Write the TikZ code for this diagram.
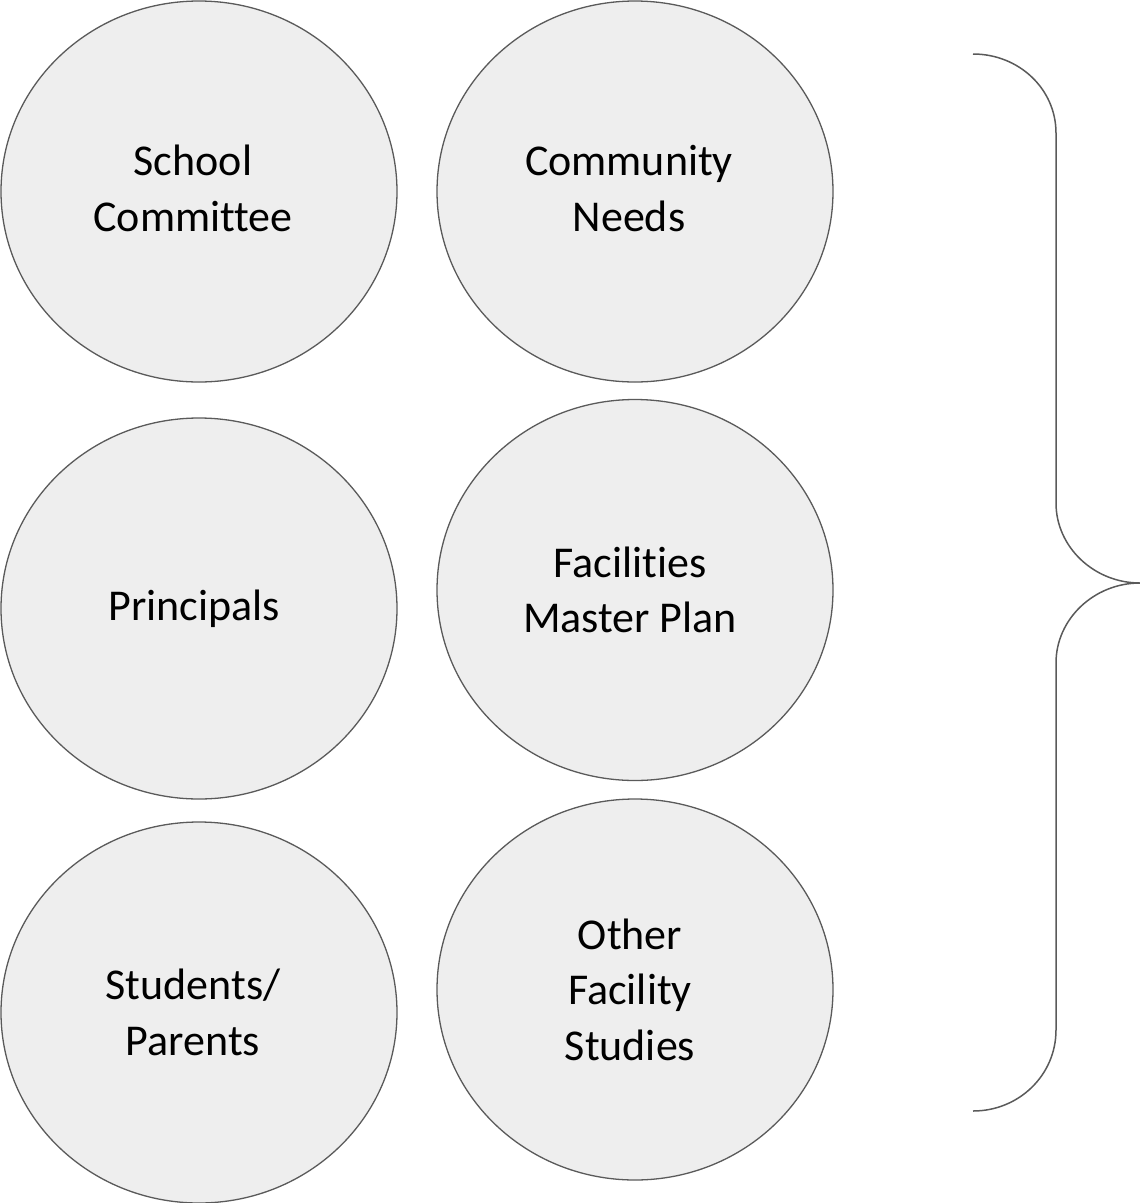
\documentclass[tikz,border=0pt]{standalone}
\usepackage{fontspec}
\setmainfont{Carlito}[Ligatures={NoCommon}]
\usetikzlibrary{shapes.geometric}
\definecolor{ringline}{HTML}{5A5A5A}
\definecolor{ringfill}{HTML}{EEEEEE}
\tikzset{
  bubble/.style={ellipse, draw=ringline, fill=ringfill, line width=1.3pt,
    minimum width=396pt, minimum height=381pt, inner sep=0pt},
  bubbletext/.style={align=center, inner sep=0pt,
    font=\fontsize{44}{55.5}\selectfont},
  bracestroke/.style={draw=ringline, line width=1.5pt}
}
\begin{document}
\begin{tikzpicture}[x=1pt,y=-1pt]
\useasboundingbox (0,0) rectangle (1140,1203);
\node[bubble] (school) at (199,191.5) {};
\node[bubble] (community) at (635,191.5) {};
\node[bubble] (principals) at (199,608.5) {};
\node[bubble] (fmp) at (635,590) {};
\node[bubble] (students) at (199,1012.5) {};
\node[bubble] (other) at (635,989.5) {};
\node[bubbletext] (schoolT) at ([xshift=-6pt,yshift=3pt]school.center) {School\\Committee};
\node[bubbletext] (communityT) at ([xshift=-6pt,yshift=3pt]community.center) {Community\\Needs};
\node[bubbletext] (principalsT) at ([xshift=-5pt]principals.center) {Principals};
\node[bubbletext] (fmpT) at ([xshift=-5pt]fmp.center) {Facilities\\Master Plan};
\node[bubbletext] (studentsT) at ([xshift=-6pt]students.center) {Students/\\Parents};
\node[bubbletext] (otherT) at ([xshift=-5pt]other.center) {Other\\Facility\\Studies};
\coordinate (btop) at (973,54);
\coordinate (btip) at (1140,583);
\coordinate (bbot) at (973,1111);
\draw[bracestroke] (btop) .. controls (1019,54) and (1056,89) .. (1056,133)
  -- (1056,503) .. controls (1056,547) and (1094,583) .. (btip)
  .. controls (1094,583) and (1056,619) .. (1056,663)
  -- (1056,1030) .. controls (1056,1075) and (1019,1111) .. (bbot);
\end{tikzpicture}
\end{document}
